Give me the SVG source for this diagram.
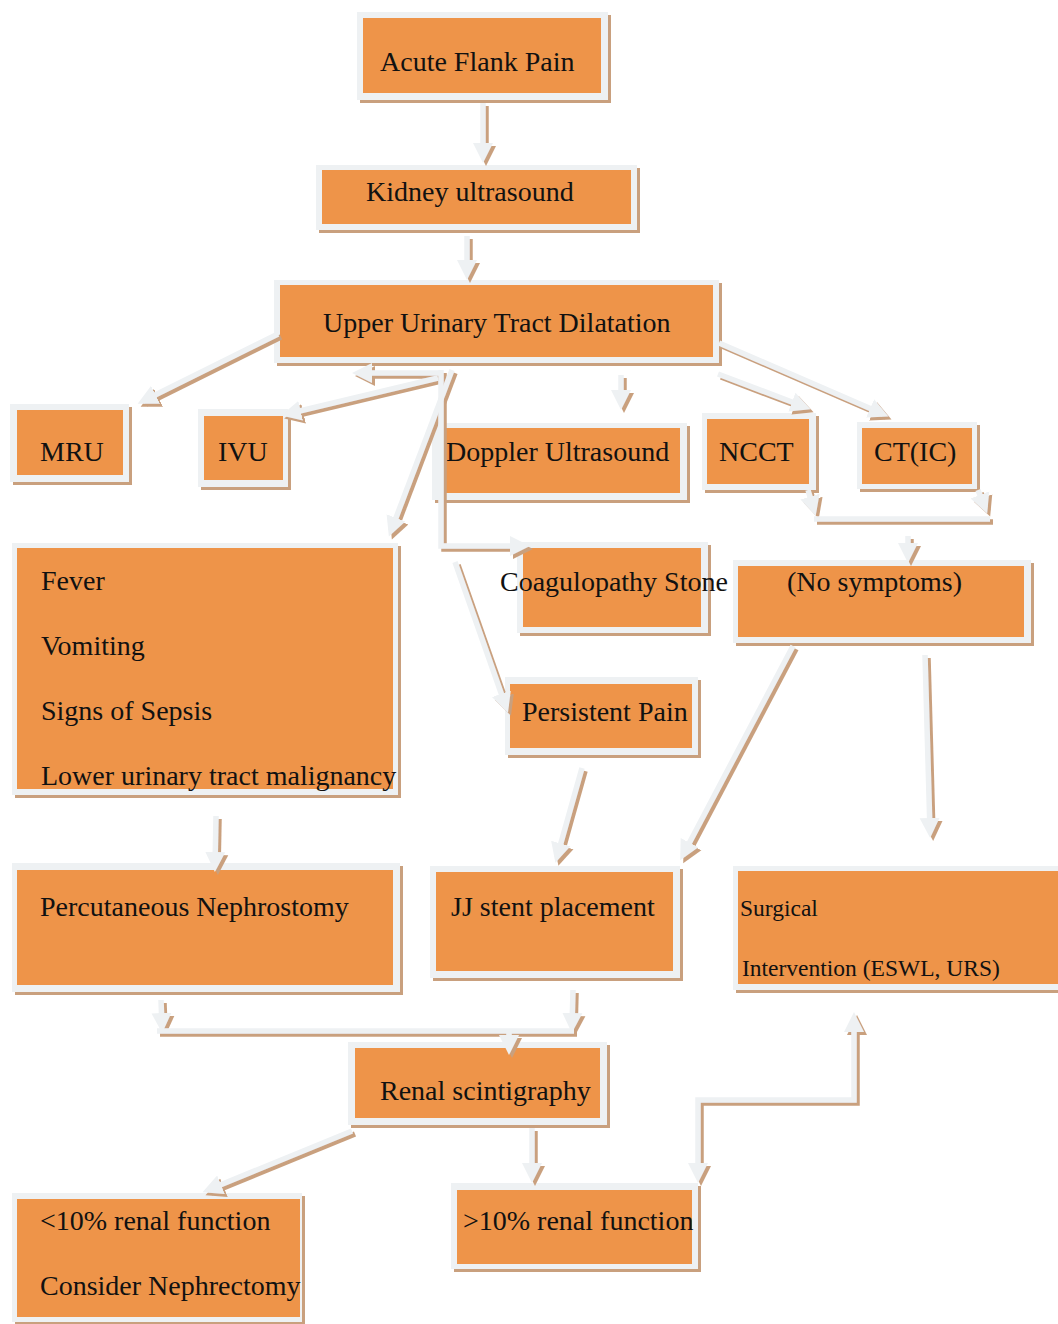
<svg xmlns="http://www.w3.org/2000/svg" width="1058" height="1324" viewBox="0 0 1058 1324">
<style>
.fr{fill:#eef1f3;filter:url(#sh)}
.or{fill:#ee9449}
.t{font-family:"Liberation Serif","Times New Roman",serif;font-size:28px;fill:#111}
.ts{font-family:"Liberation Serif","Times New Roman",serif;font-size:23.5px;fill:#111}
.cn path{fill:none;stroke:#eef1f3;stroke-width:5.5;stroke-linejoin:miter}
.cn .a{marker-end:url(#ah)}
.cn .b{marker-start:url(#ah);marker-end:url(#ah)}
</style>
<defs>
<filter id="sh" filterUnits="userSpaceOnUse" x="0" y="0" width="1058" height="1324">
<feFlood flood-color="#c9a07e"/>
<feComposite in2="SourceAlpha" operator="in"/>
<feOffset dx="3" dy="3" result="s"/>
<feMerge><feMergeNode in="s"/><feMergeNode in="SourceGraphic"/></feMerge>
</filter>
<marker id="ah" markerUnits="userSpaceOnUse" markerWidth="24" markerHeight="24" viewBox="0 -12 24 24" refX="14" refY="0" orient="auto-start-reverse">
<path d="M0,-10 L20,0 L0,10 z" fill="#eef1f3"/>
</marker>
</defs>
<rect width="1058" height="1324" fill="#fff"/>
<g id="acute"><rect class="fr" x="357" y="12" width="251" height="88"/><rect class="or" x="363" y="18" width="238" height="75"/><text class="t" x="380" y="71">Acute Flank Pain</text></g>
<g id="kidney"><rect class="fr" x="316" y="165" width="321" height="65"/><rect class="or" x="322" y="170" width="309" height="54"/><text class="t" x="366" y="201">Kidney ultrasound</text></g>
<g id="upper"><rect class="fr" x="274" y="280" width="445" height="83"/><rect class="or" x="280" y="285" width="433" height="72"/><text class="t" x="323" y="332">Upper Urinary Tract Dilatation</text></g>
<g id="mru"><rect class="fr" x="10" y="404" width="119" height="78"/><rect class="or" x="17" y="410" width="106" height="65"/><text class="t" x="40" y="461">MRU</text></g>
<g id="ivu"><rect class="fr" x="198" y="409" width="90" height="78"/><rect class="or" x="204" y="416" width="79" height="64"/><text class="t" x="218" y="461">IVU</text></g>
<g id="doppler"><rect class="fr" x="432" y="423" width="255" height="77"/><rect class="or" x="446" y="428" width="234" height="65"/><text class="t" x="446" y="461">Doppler Ultrasound</text></g>
<g id="ncct"><rect class="fr" x="702" y="413" width="114" height="77"/><rect class="or" x="707" y="419" width="102" height="65"/><text class="t" x="719" y="461">NCCT</text></g>
<g id="ctic"><rect class="fr" x="857" y="422" width="120" height="67"/><rect class="or" x="862" y="428" width="110" height="56"/><text class="t" x="874" y="461">CT(IC)</text></g>
<g id="fever"><rect class="fr" x="12" y="543" width="386" height="252"/><rect class="or" x="17" y="548" width="376" height="241"/><text class="t" x="41" y="590">Fever</text><text class="t" x="41" y="655">Vomiting</text><text class="t" x="41" y="720">Signs of Sepsis</text><text class="t" x="41" y="785">Lower urinary tract malignancy</text></g>
<g id="coag"><rect class="fr" x="517" y="542" width="191" height="91"/><rect class="or" x="523" y="548" width="178" height="79"/><text class="t" x="500" y="591">Coagulopathy Stone</text></g>
<g id="nosym"><rect class="fr" x="733" y="560" width="298" height="83"/><rect class="or" x="738" y="566" width="286" height="71"/><text class="t" x="787" y="591">(No symptoms)</text></g>
<g id="persistent"><rect class="fr" x="505" y="677" width="193" height="78"/><rect class="or" x="510" y="684" width="182" height="64"/><text class="t" x="522" y="721">Persistent Pain</text></g>
<g id="percutaneous"><rect class="fr" x="12" y="863" width="388" height="129"/><rect class="or" x="17" y="870" width="376" height="115"/><text class="t" x="40" y="916">Percutaneous Nephrostomy</text></g>
<g id="jj"><rect class="fr" x="430" y="866" width="250" height="112"/><rect class="or" x="436" y="872" width="237" height="99"/><text class="t" x="451" y="916">JJ stent placement</text></g>
<g id="surgical"><rect class="fr" x="733" y="866" width="340" height="124"/><rect class="or" x="738" y="871" width="330" height="113"/><text class="ts" x="740" y="916">Surgical</text><text class="ts" x="742" y="976">Intervention (ESWL, URS)</text></g>
<g id="renal"><rect class="fr" x="348" y="1042" width="259" height="83"/><rect class="or" x="355" y="1048" width="245" height="70"/><text class="t" x="380" y="1100">Renal scintigraphy</text></g>
<g id="lt10"><rect class="fr" x="12" y="1193" width="290" height="129"/><rect class="or" x="17" y="1199" width="283" height="118"/><text class="t" x="40" y="1230">&lt;10% renal function</text><text class="t" x="40" y="1295">Consider Nephrectomy</text></g>
<g id="gt10"><rect class="fr" x="451" y="1183" width="247" height="86"/><rect class="or" x="457" y="1190" width="235" height="74"/><text class="t" x="463" y="1230">&gt;10% renal function</text></g>
<g id="connectors" class="cn" filter="url(#sh)">
<path class="a" d="M483,103 L483,157"/>
<path class="a" d="M467,236 L467,274"/>
<path class="a" d="M278,334 L143,401"/>
<path class="a" d="M438,378 L287,414"/>
<path class="a" d="M441,373 L358,373"/>
<path class="a" d="M441,370 L441,546 L524,546"/>
<path class="a" d="M452,370 L391,531"/>
<path class="a" d="M621,375 L621,404"/>
<path class="a" d="M718,374 L805,407"/>
<path class="a" d="M719,343 L883,414"/>
<path class="a" d="M808,490 L814,510"/>
<path class="a" d="M978,490 L985,508"/>
<path d="M814,519 L990,519"/>
<path class="a" d="M908,536 L908,557"/>
<path class="a" d="M455,562 L506,707"/>
<path class="a" d="M582,768 L557,857"/>
<path class="a" d="M793,646 L683,855"/>
<path class="a" d="M925,655 L930,832"/>
<path class="a" d="M216,816 L215,866"/>
<path class="a" d="M161,1000 L162,1027"/>
<path class="a" d="M573,990 L572,1027"/>
<path d="M157,1031 L574,1031"/>
<path class="a" d="M509,1032 L509,1049"/>
<path class="a" d="M352,1131 L208,1190"/>
<path class="a" d="M532,1128 L532,1177"/>
<path class="b" d="M698,1177 L698,1100 L854,1100 L854,1018"/>
</g>
</svg>
